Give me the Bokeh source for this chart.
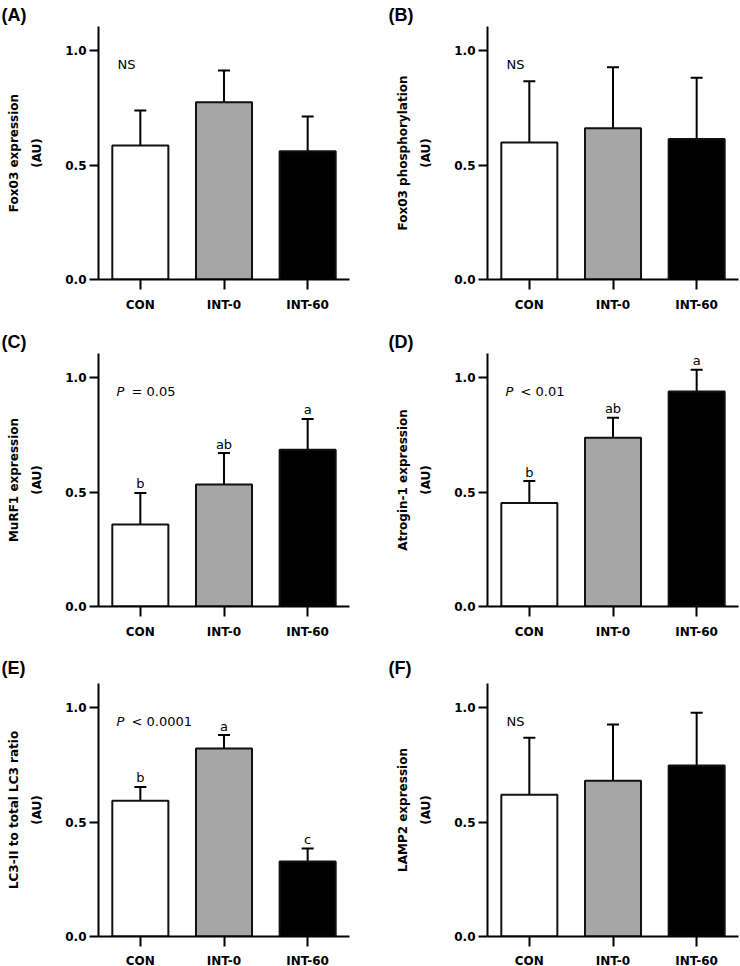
from bokeh.plotting import figure
from bokeh.layouts import gridplot
from bokeh.models import (ColumnDataSource, FactorRange, Range1d, Whisker, TeeHead,
                          Label, PrintfTickFormatter, FixedTicker)
from bokeh.core.properties import value
from bokeh.embed import file_html
from bokeh.resources import INLINE

groups = ["CON", "INT-0", "INT-60"]
bar_colors = ["#ffffff", "#a6a6a6", "#000000"]

# Panel A: Fox03 expression
a_mean = [0.585, 0.774, 0.560]
a_err = [0.153, 0.139, 0.152]
# Panel B: Fox03 phosphorylation
b_mean = [0.598, 0.661, 0.614]
b_err = [0.268, 0.266, 0.267]
# Panel C: MuRF1 expression
c_mean = [0.358, 0.533, 0.685]
c_err = [0.138, 0.137, 0.134]
c_letters = ["b", "ab", "a"]
# Panel D: Atrogin-1 expression
d_mean = [0.452, 0.737, 0.939]
d_err = [0.096, 0.087, 0.095]
d_letters = ["b", "ab", "a"]
# Panel E: LC3-II to total LC3 ratio
e_mean = [0.593, 0.821, 0.328]
e_err = [0.060, 0.059, 0.056]
e_letters = ["b", "a", "c"]
# Panel F: LAMP2 expression
f_mean = [0.619, 0.680, 0.747]
f_err = [0.249, 0.246, 0.230]

y_ticks = [0.0, 0.5, 1.0]

TXT_FONT = "Liberation Sans"
AX_FONT = "DejaVu Sans"
FRAME_W = 251
FRAME_H = 253
LEFT = [98, 117]
RIGHT = [21, 2]
TOP = [26, 33, 33]
BOTTOM = [41, 44, 30]
TITLE_OFFSET = [-97, -99]
TITLE_STANDOFF = [3, 4, 11]
XLABEL_STANDOFF = [8, 8, 7]


def make_panel(mean, err, letters, ylabel, stat, panel, col, row):
    p = figure(x_range=FactorRange(*groups), y_range=Range1d(0, 1.105),
               frame_width=FRAME_W, frame_height=FRAME_H,
               min_border_left=LEFT[col], min_border_right=RIGHT[col],
               min_border_top=TOP[row], min_border_bottom=BOTTOM[row],
               output_backend="svg", toolbar_location=None,
               title=panel, title_location="above")
    p.outline_line_color = None
    p.xgrid.grid_line_color = None
    p.ygrid.grid_line_color = None
    p.background_fill_color = "white"
    p.border_fill_color = "white"

    p.title.align = "left"
    p.title.offset = TITLE_OFFSET[col]
    p.title.standoff = TITLE_STANDOFF[row]
    p.title.text_font = TXT_FONT
    p.title.text_font_size = "18px"
    p.title.text_font_style = "bold"
    p.title.text_color = "black"

    upper = [m + e for m, e in zip(mean, err)]
    src = ColumnDataSource(dict(x=groups, top=mean, upper=upper, color=bar_colors,
                                letters=letters if letters else [""] * 3))
    p.vbar(x="x", top="top", width=0.67, bottom=0, source=src,
           fill_color="color", line_color="#111111", line_width=2)
    w = Whisker(base="x", upper="upper", lower="top", source=src,
                line_color="black", line_width=2,
                upper_head=TeeHead(size=12, line_width=2, line_color="black"),
                lower_head=None)
    p.add_layout(w)
    if letters:
        p.text(x="x", y="upper", text="letters", source=src,
               text_align="center", text_baseline="alphabetic", y_offset=-9,
               text_font=value(AX_FONT), text_font_size="13px",
               text_color="black")

    # statistics text
    if stat[0] == "NS":
        p.add_layout(Label(x=19, x_units="screen", y=0.94, y_units="data", text="NS",
                           text_font=AX_FONT, text_font_size="13px",
                           text_baseline="alphabetic", text_color="black"))
    else:
        p.add_layout(Label(x=18, x_units="screen", y=0.94, y_units="data", text="P",
                           text_font=AX_FONT, text_font_size="13px", text_font_style="italic",
                           text_baseline="alphabetic", text_color="black"))
        p.add_layout(Label(x=33, x_units="screen", y=0.94, y_units="data", text=stat[1],
                           text_font=AX_FONT, text_font_size="13px",
                           text_baseline="alphabetic", text_color="black"))

    for ax in (p.xaxis[0], p.yaxis[0]):
        ax.axis_line_width = 2
        ax.axis_line_color = "black"
        ax.major_tick_line_width = 2
        ax.major_tick_line_color = "black"
        ax.major_tick_in = 0
        ax.minor_tick_line_color = None
        ax.major_label_text_font = AX_FONT
        ax.major_label_text_font_style = "bold"
        ax.major_label_text_font_size = "12px"
        ax.major_label_text_color = "black"

    p.xaxis.major_tick_out = 10
    p.xaxis.major_label_standoff = XLABEL_STANDOFF[row]
    p.yaxis.major_tick_out = 9
    p.yaxis.major_label_standoff = 3
    p.yaxis.ticker = FixedTicker(ticks=y_ticks)
    p.yaxis.formatter = PrintfTickFormatter(format="%.1f")
    p.yaxis.axis_label = ylabel
    p.yaxis.axis_label_text_font = AX_FONT
    p.yaxis.axis_label_text_font_style = "bold"
    p.yaxis.axis_label_text_font_size = "12px"
    p.yaxis.axis_label_text_line_height = 1.65
    p.yaxis.axis_label_standoff = 18
    p.yaxis.axis_label_text_color = "black"
    return p


pa = make_panel(a_mean, a_err, None, "Fox03 expression\n(AU)", ("NS",), "(A)", 0, 0)
pb = make_panel(b_mean, b_err, None, "Fox03 phosphorylation\n(AU)", ("NS",), "(B)", 1, 0)
pc = make_panel(c_mean, c_err, c_letters, "MuRF1 expression\n(AU)", ("P", "= 0.05"), "(C)", 0, 1)
pd = make_panel(d_mean, d_err, d_letters, "Atrogin-1 expression\n(AU)", ("P", "< 0.01"), "(D)", 1, 1)
pe = make_panel(e_mean, e_err, e_letters, "LC3-II to total LC3 ratio\n(AU)", ("P", "< 0.0001"), "(E)", 0, 2)
pf = make_panel(f_mean, f_err, None, "LAMP2 expression\n(AU)", ("NS",), "(F)", 1, 2)

grid = gridplot([[pa, pb], [pc, pd], [pe, pf]], toolbar_location=None)

open("out.html", "w").write(file_html(grid, INLINE))
